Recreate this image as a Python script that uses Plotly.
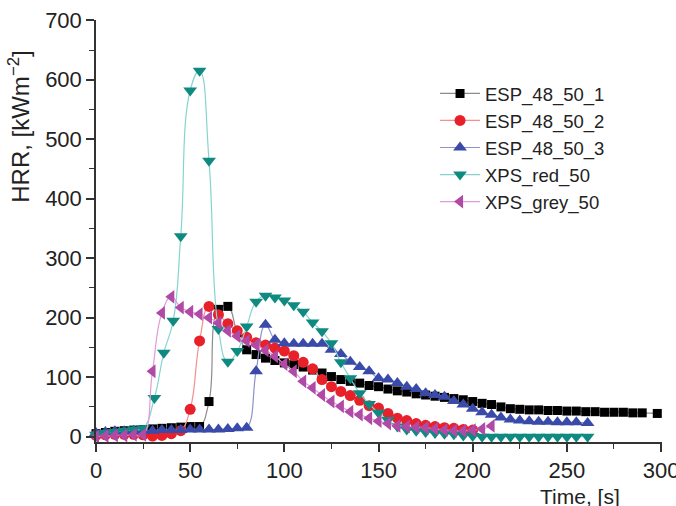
import plotly.graph_objects as go

# ---- data ----
t_esp1 = [0, 5, 10, 15, 20, 25, 30, 35, 40, 45, 50, 55, 60, 65, 70, 75, 80, 85, 90, 95, 100,
          105, 110, 115, 120, 125, 130, 135, 140, 145, 150, 155, 160, 165, 170, 175, 180, 185,
          190, 195, 200, 205, 210, 215, 220, 225, 230, 235, 240, 245, 250, 255, 260, 265, 270,
          275, 280, 285, 290, 298]
hrr_esp1 = [5, 7, 9, 10, 11, 12, 13, 14, 15, 16, 17, 17, 59, 214, 219, 175, 146, 138, 132, 128, 124,
            121, 117, 112, 107, 101, 96, 93, 90, 86, 84, 80, 77, 75, 72, 70, 68, 66,
            64, 62, 59, 56, 54, 50, 47, 46, 45, 45, 44, 44, 43, 43, 42, 42, 41,
            41, 41, 40, 40, 39]

t_esp2 = [0, 5, 10, 15, 20, 25, 30, 35, 40, 45, 50, 55, 60, 65, 70, 75, 80, 85, 90, 95, 100,
          105, 110, 115, 120, 125, 130, 135, 140, 145, 150, 155, 160, 165, 170, 175, 180, 185,
          190, 195, 200]
hrr_esp2 = [2, 3, 4, 4, 4, 3, 1, 2, 5, 10, 46, 161, 219, 205, 190, 178, 167, 158, 154, 149, 144,
            136, 125, 114, 96, 84, 76, 69, 61, 52, 48, 39, 31, 27, 22, 19, 17, 15,
            14, 12, 11]

t_esp3 = [0, 5, 10, 15, 20, 25, 30, 35, 40, 45, 50, 55, 60, 65, 70, 75, 80, 85, 90, 95, 100,
          105, 110, 115, 120, 125, 130, 135, 140, 145, 150, 155, 160, 165, 170, 175, 180, 185,
          190, 195, 200, 205, 210, 215, 220, 225, 230, 235, 240, 245, 250, 255, 261]
hrr_esp3 = [6, 8, 9, 9, 10, 10, 10, 11, 11, 11, 12, 12, 12, 12, 13, 14, 15, 110, 188, 163, 157,
            156, 156, 156, 156, 146, 139, 126, 117, 110, 98, 96, 90, 84, 80, 73, 70, 67,
            60, 54, 47, 41, 37, 32, 29, 27, 26, 25, 25, 24, 24, 24, 23]

t_xps_red = [0, 5, 10, 15, 20, 25, 31, 36, 41, 45, 50, 55, 60, 65, 70, 75, 80, 85, 90, 95, 100,
             105, 110, 115, 120, 125, 130, 135, 140, 145, 150, 155, 160, 165, 170, 175, 180, 185,
             190, 195, 200, 205, 210, 215, 220, 225, 230, 235, 240, 245, 250, 255, 261]
hrr_xps_red = [3, 6, 8, 10, 12, 14, 65, 141, 195, 337, 582, 615, 464, 181, 126, 144, 185, 227, 237, 234, 229,
               221, 210, 192, 177, 157, 125, 98, 73, 55, 40, 28, 17, 12, 10, 8, 6, 5,
               4, 2, 1, 0, 0, 0, 0, 0, 0, 0, 0, 0, 0, 0, 0]

t_xps_grey = [0, 5, 10, 15, 20, 25, 30, 35, 40, 45, 50, 55, 60, 65, 70, 75, 80, 85, 90, 95, 100,
              105, 110, 115, 120, 125, 130, 135, 140, 145, 150, 155, 160, 165, 170, 175, 180, 185,
              190, 195, 200, 205, 210]
hrr_xps_grey = [0, 1, 2, 2, 3, 3, 110, 208, 235, 217, 210, 206, 200, 191, 178, 169, 161, 154, 145, 135, 122,
                110, 93, 82, 70, 59, 51, 42, 37, 31, 26, 22, 18, 17, 16, 15, 13, 11,
                10, 10, 11, 13, 18]

x_ticks = [0, 50, 100, 150, 200, 250, 300]
y_ticks = [0, 100, 200, 300, 400, 500, 600, 700]

series = [
    ("ESP_48_50_1", t_esp1, hrr_esp1, "#000000", "#8c8c8c", "square", 9),
    ("ESP_48_50_2", t_esp2, hrr_esp2, "#e8202a", "#f49090", "circle", 11),
    ("ESP_48_50_3", t_esp3, hrr_esp3, "#3a4aa8", "#9090cc", "triangle-up", 12),
    ("XPS_red_50", t_xps_red, hrr_xps_red, "#0f8a80", "#86d4d0", "triangle-down", 12),
    ("XPS_grey_50", t_xps_grey, hrr_xps_grey, "#b04aa6", "#e39ad8", "triangle-left", 12),
]

fig = go.Figure()
for name, t, y, mc, lc, sym, sz in series:
    fig.add_trace(go.Scatter(
        x=t, y=y, name=name, mode="lines+markers",
        line=dict(color=lc, width=1.2, shape="spline", smoothing=1.3),
        marker=dict(symbol=sym, size=sz, color=mc, line=dict(width=0)),
        cliponaxis=False,
    ))

axis_col = "#333333"
font_fam = "Liberation Sans, Arial, sans-serif"

fig.update_layout(
    width=676, height=506,
    margin=dict(l=96, r=14, t=20, b=64, autoexpand=False),
    paper_bgcolor="white", plot_bgcolor="white",
    font=dict(family=font_fam, size=22, color="#222222"),
    showlegend=True,
    legend=dict(x=0.599, y=0.87, xanchor="left", yanchor="top",
                font=dict(size=18.5, color="#222222"), bgcolor="rgba(0,0,0,0)",
                tracegroupgap=0, itemwidth=40),
    xaxis=dict(range=[0, 300.5], tickvals=x_ticks, automargin=False,
               ticklabeloverflow="allow",
               showgrid=False, zeroline=False, showline=True, linecolor=axis_col, linewidth=1.5,
               ticks="outside", ticklen=8, tickwidth=1.5, tickcolor=axis_col,
               ticklabelstandoff=0,
               minor=dict(ticks="outside", ticklen=5, tickwidth=1.2, tickcolor=axis_col, dtick=25)),
    yaxis=dict(range=[-9, 700.5], tickvals=y_ticks, automargin=False,
               ticklabeloverflow="allow",
               showgrid=False, zeroline=False, showline=True, linecolor=axis_col, linewidth=1.5,
               ticks="outside", ticklen=8, tickwidth=1.5, tickcolor=axis_col,
               minor=dict(ticks="outside", ticklen=5, tickwidth=1.2, tickcolor=axis_col,
                          tickvals=[50, 150, 250, 350, 450, 550, 650])),
    annotations=[
        dict(text="HRR, [kWm<sup>−2</sup>]", xref="paper", yref="paper",
             x=-0.135, y=0.746, xanchor="center", yanchor="middle", textangle=-90,
             showarrow=False, font=dict(size=24, color="#222222")),
        dict(text="Time, [s]", xref="paper", yref="paper",
             x=0.855, y=-0.128, xanchor="center", yanchor="middle",
             showarrow=False, font=dict(size=21, color="#222222")),
    ],
)

fig.write_html("out.html",
               config={"displayModeBar": False},
               post_script="document.body.style.margin='0';document.body.style.padding='0';")
